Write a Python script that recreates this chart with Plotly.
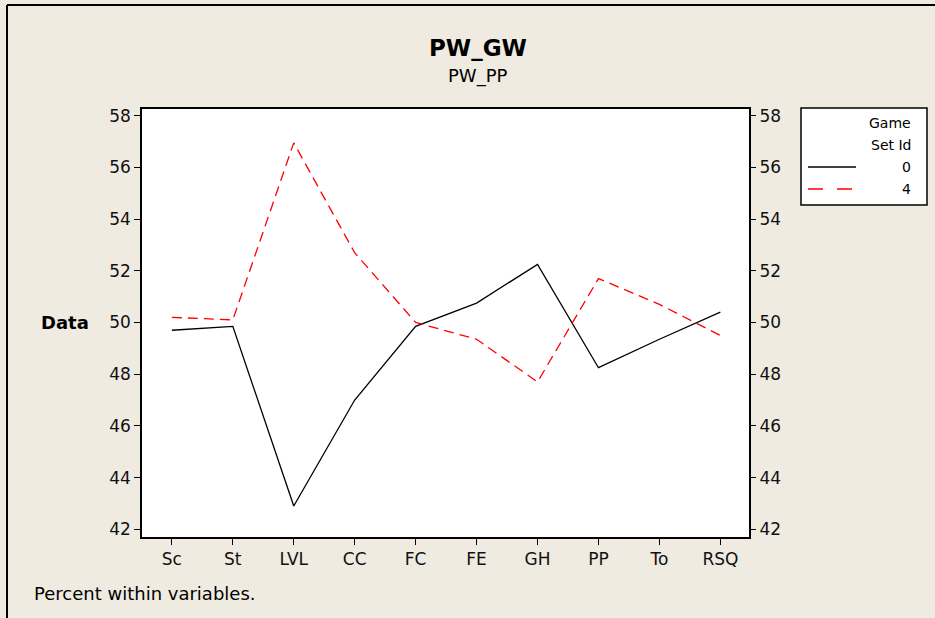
import plotly.graph_objects as go

# Variables on the x axis and percent-within-variable values per Game Set Id
categories = ["Sc", "St", "LVL", "CC", "FC", "FE", "GH", "PP", "To", "RSQ"]
set0_values = [49.7, 49.85, 42.9, 47.0, 49.85, 50.75, 52.25, 48.25, 49.35, 50.4]
set4_values = [50.2, 50.1, 56.95, 52.7, 50.0, 49.35, 47.7, 51.7, 50.7, 49.5]
y_ticks = [42, 44, 46, 48, 50, 52, 54, 56, 58]

W, H = 935, 618
L, R, T, B = 142, 749, 109, 537
BG = "#EFEBE1"
FONT = "DejaVu Sans"


def px(x, y):
    """Pixel position -> paper coordinates."""
    return (x - L) / (R - L), (B - y) / (B - T)


fig = go.Figure()
fig.add_trace(go.Scatter(x=categories, y=set0_values, mode="lines",
                         line=dict(color="black", width=1.3), name="0"))
fig.add_trace(go.Scatter(x=categories, y=set4_values, mode="lines",
                         line=dict(color="#FF0000", width=1.3, dash="10px,6px"), name="4"))
# invisible trace to carry the right-hand axis
fig.add_trace(go.Scatter(x=categories, y=set0_values, mode="lines", yaxis="y2",
                         line=dict(width=0), hoverinfo="skip", showlegend=False, opacity=0))

yrange = [41.7, 58.26]
axis_common = dict(range=yrange, tickvals=y_ticks, ticks="outside", ticklen=6,
                   tickcolor="black", tickwidth=1, showgrid=False, zeroline=False,
                   tickfont=dict(family=FONT, size=17, color="#111"))

fig.update_layout(
    width=W, height=H,
    margin=dict(l=L, r=W - R, t=T, b=H - B),
    paper_bgcolor=BG, plot_bgcolor="white",
    showlegend=False,
    xaxis=dict(type="category", range=[-0.49, 9.47], ticks="outside", ticklen=6,
               tickcolor="black", showgrid=False, zeroline=False,
               showline=True, mirror=True, linecolor="black", linewidth=1.5,
               tickfont=dict(family=FONT, size=17, color="#111")),
    yaxis=dict(**axis_common, side="left", showline=True, mirror=True,
               linecolor="black", linewidth=1.5),
    yaxis2=dict(**axis_common, side="right", overlaying="y", showline=False),
)

# titles and texts
ann = []
x, y = px(478, 48)
ann.append(dict(x=x, y=y, text="<b>PW_GW</b>", font=dict(family=FONT, size=23, color="black")))
x, y = px(478, 76)
ann.append(dict(x=x, y=y, text="PW_PP", font=dict(family=FONT, size=18, color="black")))
x, y = px(65, 322)
ann.append(dict(x=x, y=y, text="<b>Data</b>", font=dict(family=FONT, size=18, color="black")))
x, y = px(32, 593)
ann.append(dict(x=x, y=y, text="Percent within variables.", xanchor="left",
                font=dict(family=FONT, size=18, color="black")))
# legend texts (right aligned)
for ty, txt in [(123, "Game"), (145, "Set Id"), (167, "0"), (189, "4")]:
    x, y = px(913, ty)
    ann.append(dict(x=x, y=y, text=txt, xanchor="right",
                    font=dict(family=FONT, size=14, color="black")))
for a in ann:
    a.update(xref="paper", yref="paper", showarrow=False, yanchor="middle")
    a.setdefault("xanchor", "center")
fig.update_layout(annotations=ann)

shapes = []
# legend box
x0, y0 = px(801, 205)
x1, y1 = px(927, 108)
shapes.append(dict(type="rect", x0=x0, y0=y0, x1=x1, y1=y1,
                   line=dict(color="black", width=1.5), fillcolor="white", layer="below"))
# legend line samples
x0, y0 = px(808, 167)
x1, _ = px(856, 167)
shapes.append(dict(type="line", x0=x0, y0=y0, x1=x1, y1=y0, line=dict(color="black", width=1.3)))
x0, y0 = px(808, 189)
x1, _ = px(856, 189)
shapes.append(dict(type="line", x0=x0, y0=y0, x1=x1, y1=y0,
                   line=dict(color="#FF0000", width=1.3, dash="15px,14px")))
# outer frame edges (left and top)
x0, y0 = px(7, 618)
x1, y1 = px(7, 5)
shapes.append(dict(type="line", x0=x0, y0=y0, x1=x1, y1=y1, line=dict(color="black", width=2)))
x0, y0 = px(7, 5)
x1, y1 = px(935, 5)
shapes.append(dict(type="line", x0=x0, y0=y0, x1=x1, y1=y1, line=dict(color="black", width=2)))
for s in shapes:
    s.update(xref="paper", yref="paper")
fig.update_layout(shapes=shapes)

fig.write_html("out.html")
